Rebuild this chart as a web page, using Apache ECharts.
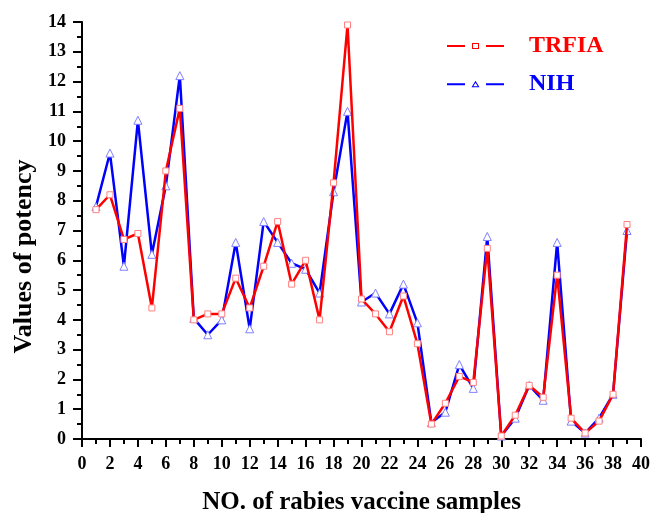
<!DOCTYPE html>
<html>
<head>
<meta charset="utf-8">
<script src="https://cdn.jsdelivr.net/npm/echarts@6/dist/echarts.min.js"></script>
<style>html,body{margin:0;padding:0;background:#fff}#c{width:651px;height:513px}</style>
</head>
<body>
<div id="c"></div>
<script>
var samples = [1,2,3,4,5,6,7,8,9,10,11,12,13,14,15,16,17,18,19,20,21,22,23,24,25,26,27,28,29,30,31,32,33,34,35,36,37,38,39];
var trfia = [7.7,8.2,6.7,6.9,4.4,9.0,11.1,4.0,4.2,4.2,5.4,4.4,5.8,7.3,5.2,6.0,4.0,8.6,13.9,4.7,4.2,3.6,4.8,3.2,0.5,1.2,2.1,1.9,6.4,0.1,0.8,1.8,1.4,5.5,0.7,0.2,0.6,1.5,7.2];
var nih = [7.8,9.6,5.8,10.7,6.2,8.5,12.2,4.05,3.5,4.0,6.6,3.7,7.3,6.6,5.9,5.7,4.9,8.3,11.0,4.6,4.9,4.2,5.2,3.9,0.55,0.9,2.5,1.7,6.8,0.1,0.7,1.8,1.3,6.6,0.6,0.2,0.7,1.5,7.0];
var seriesNames = ['TRFIA','NIH'];
var xTitle = 'NO. of rabies vaccine samples';
var yTitle = 'Values of potency';

function pairs(v){ return samples.map(function(s,i){ return [s, v[i]]; }); }
var font = '"Liberation Serif","Times New Roman",serif';
var iconSquare = 'path://M0,3L18,3L18,5L0,5Z M39,3L57,3L57,5L39,5Z M25,1L32,1L32,7L25,7Z M26,2L26,6L31,6L31,2Z';
var iconTri = 'path://M0,3L18,3L18,5L0,5Z M39,3L57,3L57,5L39,5Z M28.5,0.5L32.5,7L24.5,7Z M28.5,2.5L26.3,6L30.7,6Z';
var chart = echarts.init(document.getElementById('c'), null, {renderer:'canvas'});
chart.setOption({
  animation:false,
  backgroundColor:'#fff',
  grid:{left:82, right:10, top:22, bottom:74, containLabel:false, outerBoundsMode:'none'},
  legend:{
    data:[
      {name:seriesNames[0], icon:iconSquare, itemStyle:{color:'#ff0000', borderWidth:0}, textStyle:{color:'#ff0000'}},
      {name:seriesNames[1], icon:iconTri, itemStyle:{color:'#0000ff', borderWidth:0}, textStyle:{color:'#0000ff'}}
    ],
    orient:'vertical', left:442, top:29,
    itemWidth:57, itemHeight:6.5, itemGap:14,
    textStyle:{fontFamily:font, fontWeight:'bold', fontSize:24, padding:[0,0,0,20]}
  },
  xAxis:{
    type:'value', min:0, max:40, interval:2,
    name:xTitle, nameLocation:'middle', nameGap:51,
    nameTextStyle:{fontFamily:font, fontWeight:'bold', fontSize:25, color:'#000'},
    axisLine:{onZero:false, lineStyle:{color:'#000', width:2}},
    axisTick:{show:true, inside:false, length:8, lineStyle:{color:'#000', width:2}},
    minorTick:{show:true, splitNumber:2, length:5, lineStyle:{color:'#000', width:2}},
    axisLabel:{fontFamily:font, fontWeight:'bold', fontSize:18, color:'#000', margin:16},
    splitLine:{show:false}
  },
  yAxis:{
    type:'value', min:0, max:14, interval:1,
    name:yTitle, nameLocation:'middle', nameGap:42, nameRotate:90,
    nameTextStyle:{fontFamily:font, fontWeight:'bold', fontSize:26, color:'#000', padding:[0,52,0,0]},
    axisLine:{onZero:false, show:true, lineStyle:{color:'#000', width:2}},
    axisTick:{show:true, inside:false, length:9, lineStyle:{color:'#000', width:2}},
    minorTick:{show:true, splitNumber:2, length:5, lineStyle:{color:'#000', width:2}},
    axisLabel:{fontFamily:font, fontWeight:'bold', fontSize:18, color:'#000', margin:16},
    splitLine:{show:false}
  },
  series:[
    {
      name:seriesNames[1], type:'line', data:pairs(nih),
      symbol:'triangle', symbolSize:8, showAllSymbol:true,
      lineStyle:{color:'#0000ff', width:2.5},
      itemStyle:{color:'#ffffff', borderColor:'#8080ff', borderWidth:1},
      z:2
    },
    {
      name:seriesNames[0], type:'line', data:pairs(trfia),
      symbol:'rect', symbolSize:6, showAllSymbol:true,
      lineStyle:{color:'#ff0000', width:2.5},
      itemStyle:{color:'#ffffff', borderColor:'#ff8080', borderWidth:1},
      z:3
    }
  ]
});
</script>
</body>
</html>
